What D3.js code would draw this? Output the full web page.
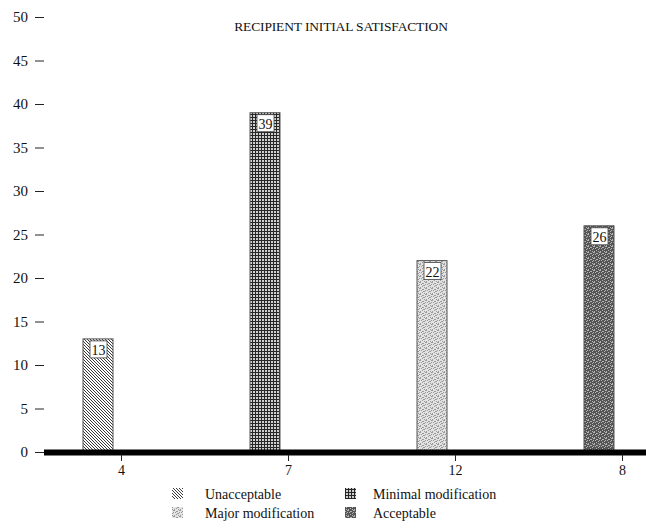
<!DOCTYPE html>
<html><head><meta charset="utf-8">
<script src="https://cdn.jsdelivr.net/npm/d3@7"></script>
<style>body{margin:0;background:#fff}svg{display:block}text{font-family:"Times New Roman","Liberation Serif",Times,serif;fill:#111}</style>
</head><body><svg id="c" width="646" height="531"></svg>
<script>
const categories = ["4", "7", "12", "8"];
const seriesNames = ["Unacceptable", "Minimal modification", "Major modification", "Acceptable"];
const values = [13, 39, 22, 26];
const barSeries = [0, 1, 2, 3];
const yTicks = [0, 5, 10, 15, 20, 25, 30, 35, 40, 45, 50];
const title = "RECIPIENT INITIAL SATISFACTION";

const svg = d3.select("#c");
const defs = svg.append("defs");
// patterns
const p0 = defs.append("pattern").attr("id","pat0").attr("patternUnits","userSpaceOnUse").attr("width",3).attr("height",3);
p0.append("rect").attr("width",3).attr("height",3).attr("fill","#fff");
p0.append("path").attr("d","M-1,-1 L4,4 M-1,2 L1,4 M2,-1 L4,1").attr("stroke","#222").attr("stroke-width",0.9);
const p1 = defs.append("pattern").attr("id","pat1").attr("patternUnits","userSpaceOnUse").attr("width",3).attr("height",3);
p1.append("rect").attr("width",3).attr("height",3).attr("fill","#cfcfcf");
p1.append("rect").attr("width",3).attr("height",1).attr("fill","#262626");
p1.append("rect").attr("width",1).attr("height",3).attr("fill","#262626");
function dither(id, bg, fg, cells) {
  const p = defs.append("pattern").attr("id",id).attr("patternUnits","userSpaceOnUse").attr("width",6).attr("height",6);
  p.append("rect").attr("width",6).attr("height",6).attr("fill",bg);
  cells.forEach(c => p.append("rect").attr("x",c[0]).attr("y",c[1]).attr("width",1).attr("height",1).attr("fill",fg));
}
dither("pat2", "#e2e2e2", "#9a9a9a", [[0,0],[3,1],[1,2],[5,2],[2,4],[4,3],[0,5],[4,5],[5,0],[2,1],[3,3]]);
dither("pat3", "#555555", "#b4b4b4", [[0,0],[3,1],[1,2],[5,2],[2,4],[4,3],[0,5],[4,5],[5,0],[2,1]]);
const fills = ["url(#pat0)","url(#pat1)","url(#pat2)","url(#pat3)"];

const y = d3.scaleLinear().domain([0, 50]).range([452, 17]);
const x = d3.scaleBand().domain(categories).range([37.5, 705.5]);

// title
svg.append("text").attr("x", 341).attr("y", 31).attr("text-anchor","middle")
  .attr("font-size", 13.5).attr("letter-spacing", -0.15).text(title);

// y axis labels with dashes
const yg = svg.append("g");
yTicks.forEach(t => {
  yg.append("text").attr("x", 28).attr("y", y(t) + 5).attr("text-anchor","end").attr("font-size", 15).text(t);
  yg.append("line").attr("x1", 35).attr("x2", 44).attr("y1", y(t)+0.5).attr("y2", y(t)+0.5).attr("stroke","#222").attr("stroke-width",1);
});

// bars
const bw = 30;
const bars = svg.append("g");
categories.forEach((c, i) => {
  const cx = x(c) + x.bandwidth()/2;
  const x0 = cx - 38;
  bars.append("rect").attr("x", x0).attr("y", y(values[i])).attr("width", bw).attr("height", y(0) - y(values[i]))
    .attr("fill", fills[barSeries[i]]).attr("stroke", "#555").attr("stroke-width", 1);
  bars.append("rect").attr("x", x0 + 7).attr("y", y(values[i]) + 2).attr("width", 17).attr("height", 17)
    .attr("fill", "#fff").attr("stroke", "#444").attr("stroke-width", 0.8);
  bars.append("text").attr("x", x0 + 15.5).attr("y", y(values[i]) + 16).attr("text-anchor","middle")
    .attr("font-size", 14).text(values[i]);
});

// baseline
svg.append("rect").attr("x", 44).attr("y", y(0) - 2.5).attr("width", 602).attr("height", 6).attr("fill", "#000");

// x ticks + labels
categories.forEach(c => {
  const cx = Math.round(x(c) + x.bandwidth()/2) + 0.5;
  svg.append("line").attr("x1", cx).attr("x2", cx).attr("y1", y(0)+3).attr("y2", y(0)+9).attr("stroke","#222");
  svg.append("text").attr("x", cx).attr("y", 475).attr("text-anchor","middle").attr("font-size", 14).text(c);
});

// legend
const legPos = [[172, 488], [345, 488], [172, 507], [345, 507]];
seriesNames.forEach((n, i) => {
  const [lx, ly] = legPos[i];
  svg.append("rect").attr("x", lx).attr("y", ly).attr("width", 11).attr("height", 11).attr("fill", fills[i]);
  svg.append("text").attr("x", lx + (i % 2 === 0 ? 33 : 28)).attr("y", ly + 11).attr("font-size", 14).text(n);
});
</script></body></html>
